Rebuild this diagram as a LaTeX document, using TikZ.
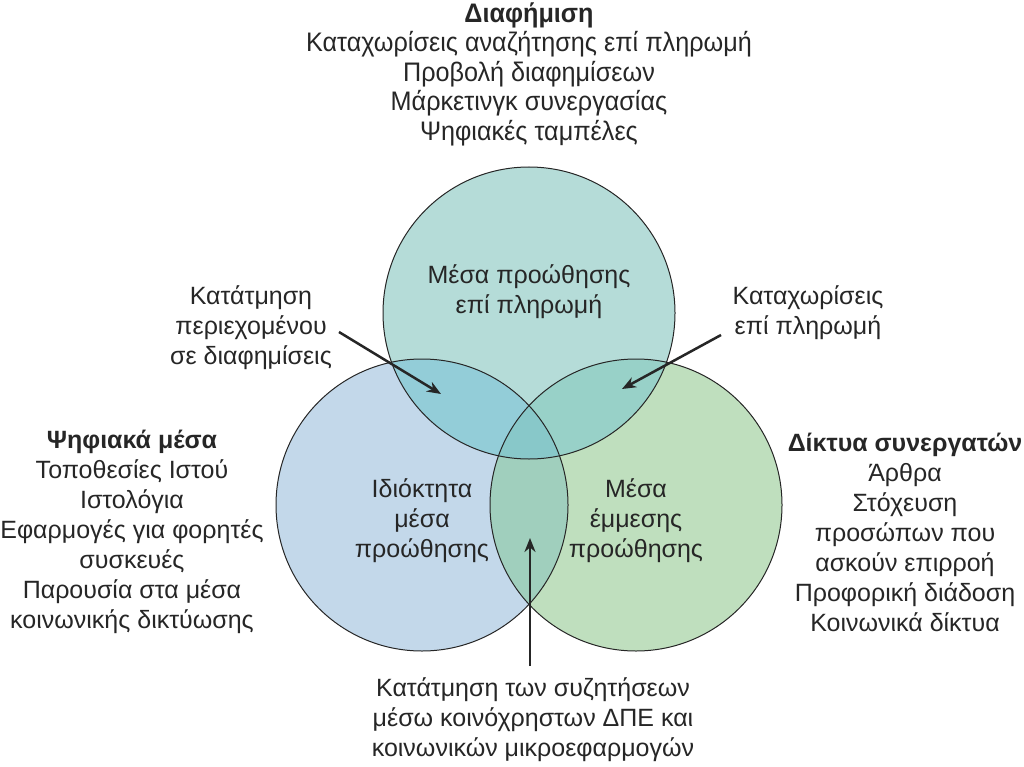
\documentclass[tikz,border=0pt]{standalone}
\usepackage{fontspec}
\setmainfont{Liberation Sans}
\newfontfamily\condfont[FakeStretch=0.94]{Liberation Sans}
\usetikzlibrary{arrows.meta}
\definecolor{cTop}{HTML}{B5DCD8}
\definecolor{cLeft}{HTML}{C3D8EA}
\definecolor{cRight}{HTML}{BFDFBE}
\definecolor{cTL}{HTML}{93CDD8}
\definecolor{cTR}{HTML}{98D1C8}
\definecolor{cLR}{HTML}{A0CFBD}
\definecolor{cAll}{HTML}{88C8C9}
\tikzset{
  lbl/.style={align=center, inner sep=0pt, font=\fontsize{25}{30}\selectfont, text=black!85},
  toplbl/.style={align=center, inner sep=0pt, font=\condfont\fontsize{26.8}{29.5}\selectfont, text=black!85},
  pointer/.style={line width=2.5pt, draw=black!85, -{Stealth[length=14pt,width=11pt]}},
  ring/.style={draw=black!85, line width=1pt},
}
\begin{document}
\begin{tikzpicture}[x=1pt,y=-1pt]
\useasboundingbox (0,0) rectangle (1024,767);
\def\rr{146}
\coordinate (T) at (529,313);
\coordinate (L) at (422,505);
\coordinate (R) at (636,505);
% base fills
\fill[cTop] (T) circle (\rr);
\fill[cLeft] (L) circle (\rr);
\fill[cRight] (R) circle (\rr);
\begin{scope}
  \clip (T) circle (\rr);
  \fill[cTL] (L) circle (\rr);
  \fill[cTR] (R) circle (\rr);
\end{scope}
\begin{scope}
  \clip (L) circle (\rr);
  \fill[cLR] (R) circle (\rr);
\end{scope}
\begin{scope}
  \clip (T) circle (\rr);
  \clip (L) circle (\rr);
  \fill[cAll] (R) circle (\rr);
\end{scope}
\draw[ring] (T) circle (\rr);
\draw[ring] (L) circle (\rr);
\draw[ring] (R) circle (\rr);

% texts
\node[toplbl] (adv) at (529,74) {{\bfseries Διαφήμιση}\\Καταχωρίσεις αναζήτησης επί πληρωμή\\Προβολή διαφημίσεων\\Μάρκετινγκ συνεργασίας\\Ψηφιακές ταμπέλες};
\node[lbl] (paid) at (529,292) {Μέσα προώθησης\\επί πληρωμή};
\node[lbl] (owned) at (422,521) {Ιδιόκτητα\\μέσα\\προώθησης};
\node[lbl] (earned) at (636,521) {Μέσα\\έμμεσης\\προώθησης};
\node[lbl] (seg) at (251,328) {Κατάτμηση\\περιεχομένου\\σε διαφημίσεις};
\node[lbl] (list) at (808,313) {Καταχωρίσεις\\επί πληρωμή};
\node[lbl] (digital) at (132,532) {{\bfseries Ψηφιακά μέσα}\\Τοποθεσίες Ιστού\\Ιστολόγια\\Εφαρμογές για φορητές\\συσκευές\\Παρουσία στα μέσα\\κοινωνικής δικτύωσης};
\node[lbl] (partners) at (905,532) {{\bfseries Δίκτυα συνεργατών}\\Άρθρα\\Στόχευση\\προσώπων που\\ασκούν επιρροή\\Προφορική διάδοση\\Κοινωνικά δίκτυα};
\node[lbl] (share) at (533,720) {Κατάτμηση των συζητήσεων\\μέσω κοινόχρηστων ΔΠΕ και\\κοινωνικών μικροεφαρμογών};

% arrow ends
\coordinate (a1s) at (339,332);
\coordinate (a1e) at (441,394);
\coordinate (a2s) at (721,335);
\coordinate (a2e) at (622,389);
\coordinate (a3s) at (530,666);
\coordinate (a3e) at (530,538);
\draw[pointer] (a1s) -- (a1e);
\draw[pointer] (a2s) -- (a2e);
\draw[pointer] (a3s) -- (a3e);
\end{tikzpicture}
\end{document}
